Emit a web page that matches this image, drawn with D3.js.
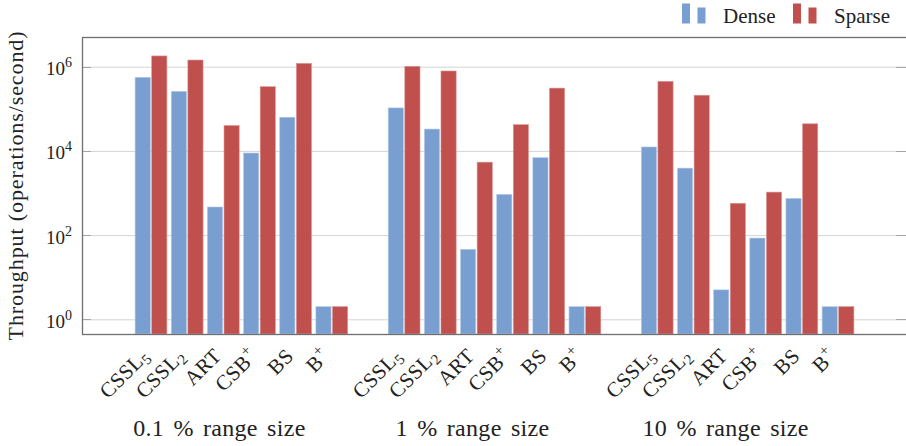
<!DOCTYPE html>
<html>
<head>
<meta charset="utf-8">
<script src="https://cdn.jsdelivr.net/npm/d3@7"></script>
<style>
  html, body { margin: 0; padding: 0; background: #fff; }
</style>
</head>
<body>
<svg id="chart" width="906" height="446" font-family="'Liberation Serif', 'DejaVu Serif', serif"></svg>
<script>
(function () {
  'use strict';

  var groups = ['0.1 % range size', '1 % range size', '10 % range size'];
  var structures = ['CSSL_5', 'CSSL_2', 'ART', 'CSB^+', 'BS', 'B^+'];
  var seriesNames = ['Dense', 'Sparse'];

  // throughput per structure, one array per range size
  var dense01 = [5.6e5, 2.6e5, 465, 8.9e3, 6.3e4, 2];
  var sparse01 = [1.8e6, 1.44e6, 4.0e4, 3.35e5, 1.2e6, 2];
  var dense1 = [1.05e5, 3.3e4, 46, 930, 6.9e3, 2];
  var sparse1 = [1.02e6, 7.9e5, 5.4e3, 4.2e4, 3.1e5, 2];
  var dense10 = [1.24e4, 3.9e3, 5, 85, 745, 2];
  var sparse10 = [4.5e5, 2.1e5, 570, 1.05e3, 4.4e4, 2];

  var yTickExponents = [0, 2, 4, 6];

  var denseByGroup = [dense01, dense1, dense10];
  var sparseByGroup = [sparse01, sparse1, sparse10];
  var colors = { Dense: '#789fd0', Sparse: '#c0504d' };
  var strokes = { Dense: '#b5cbe8', Sparse: '#dc9896' };
  var FONT = "'Liberation Serif', 'DejaVu Serif', serif";

  var frame = { left: 82, top: 37, right: 907, bottom: 334 };
  var barW = 15.2, barGap = 0.7;

  var svg = d3.select('#chart');

  var x = d3.scaleLinear().domain([0, 19]).range([151, 838]);
  var y = d3.scaleLog()
    .domain([Math.pow(10, -0.349), Math.pow(10, 6.705)])
    .range([frame.bottom, frame.top]);

  var bars = [];
  groups.forEach(function (g, gi) {
    structures.forEach(function (s, si) {
      var pos = gi * 7 + si;
      bars.push({ series: 'Dense', pos: pos, value: denseByGroup[gi][si] });
      bars.push({ series: 'Sparse', pos: pos, value: sparseByGroup[gi][si] });
    });
  });

  var tickVals = yTickExponents.map(function (e) { return Math.pow(10, e); });

  // grid lines
  var yAxisGrid = d3.axisLeft(y)
    .tickValues(tickVals)
    .tickSize(-(frame.right - frame.left))
    .tickFormat('');

  svg.append('g')
    .attr('transform', 'translate(' + frame.left + ',0)')
    .call(yAxisGrid)
    .call(function (g) {
      g.select('.domain').remove();
      g.selectAll('.tick line').attr('stroke', '#d4d4d4').attr('stroke-width', 1);
    });

  // inner ticks on both sides
  [[frame.left, frame.left + 9], [896, 906]].forEach(function (span) {
    svg.append('g').selectAll('line')
      .data(tickVals)
      .join('line')
      .attr('x1', span[0]).attr('x2', span[1])
      .attr('y1', function (d) { return Math.round(y(d)) + 0.5; })
      .attr('y2', function (d) { return Math.round(y(d)) + 0.5; })
      .attr('stroke', '#a6a6a6');
  });

  // bars
  svg.append('g').selectAll('rect')
    .data(bars)
    .join('rect')
    .attr('x', function (d) {
      return d.series === 'Dense' ? x(d.pos) - barGap - barW : x(d.pos) + barGap;
    })
    .attr('width', barW)
    .attr('y', function (d) { return y(d.value); })
    .attr('height', function (d) { return frame.bottom - y(d.value); })
    .attr('fill', function (d) { return colors[d.series]; })
    .attr('stroke', function (d) { return strokes[d.series]; })
    .attr('stroke-width', 0.6);

  // frame
  svg.append('rect')
    .attr('x', frame.left + 0.5)
    .attr('y', frame.top + 0.5)
    .attr('width', frame.right - frame.left)
    .attr('height', frame.bottom - frame.top)
    .attr('fill', 'none')
    .attr('stroke', '#6e6e6e')
    .attr('stroke-width', 1.3);

  // y tick labels
  var yl = svg.append('g').selectAll('text')
    .data(yTickExponents)
    .join('text')
    .attr('x', 72)
    .attr('y', function (e) { return y(Math.pow(10, e)) + 8.5; })
    .attr('text-anchor', 'end')
    .attr('font-family', FONT)
    .attr('font-size', 19)
    .attr('fill', '#222');
  yl.append('tspan').text('10');
  yl.append('tspan')
    .attr('dy', -8)
    .attr('font-size', 14)
    .text(function (e) { return e; });

  svg.append('text')
    .attr('transform', 'translate(23,' + ((frame.top + frame.bottom) / 2 + 0) + ') rotate(-90)')
    .attr('text-anchor', 'middle')
    .attr('font-family', FONT)
    .attr('font-size', 22)
    .attr('letter-spacing', 0.9)
    .attr('fill', '#222')
    .text('Throughput (operations/second)');

  // x tick labels, rotated
  var ticks = [];
  groups.forEach(function (g, gi) {
    structures.forEach(function (s, si) { ticks.push({ pos: gi * 7 + si, label: s }); });
  });

  var xl = svg.append('g').selectAll('text')
    .data(ticks)
    .join('text')
    .attr('transform', function (d) {
      return 'translate(' + (x(d.pos) - 6) + ',352) rotate(-45)';
    })
    .attr('text-anchor', 'end')
    .attr('dy', '0.35em')
    .attr('font-family', FONT)
    .attr('font-size', 21)
    .attr('letter-spacing', 0.4)
    .attr('fill', '#222');

  xl.each(function (d) {
    var t = d3.select(this);
    var m = d.label.match(/^([^_^]+)([_^])?(.*)$/);
    t.append('tspan').text(m[1]);
    if (m[2] === '_') {
      t.append('tspan').attr('font-size', 15).attr('dy', 4).text(m[3]);
    } else if (m[2] === '^') {
      t.append('tspan').attr('font-size', 15).attr('dy', -9).text(m[3]);
    }
  });

  // group labels
  svg.append('g').selectAll('text')
    .data(groups)
    .join('text')
    .attr('x', function (g, gi) { return (x(gi * 7) + x(gi * 7 + 5)) / 2 - 22; })
    .attr('y', 436)
    .attr('text-anchor', 'middle')
    .attr('font-family', FONT)
    .attr('font-size', 24)
    .attr('word-spacing', 3)
    .attr('letter-spacing', 0.3)
    .attr('fill', '#222')
    .text(function (g) { return g; });

  // legend
  var legend = svg.append('g');
  var legendX = { Dense: 682, Sparse: 793 };
  seriesNames.forEach(function (name) {
    var lx = legendX[name];
    legend.append('rect').attr('x', lx).attr('y', 3.5).attr('width', 8).attr('height', 20)
      .attr('fill', colors[name]);
    legend.append('rect').attr('x', lx + 15.5).attr('y', 7.5).attr('width', 8).attr('height', 16)
      .attr('fill', colors[name]);
    legend.append('text')
      .attr('x', lx + 41)
      .attr('y', 23)
      .attr('font-family', FONT)
      .attr('font-size', 21)
      .attr('fill', '#222')
      .text(name);
  });
}());
</script>
</body>
</html>
